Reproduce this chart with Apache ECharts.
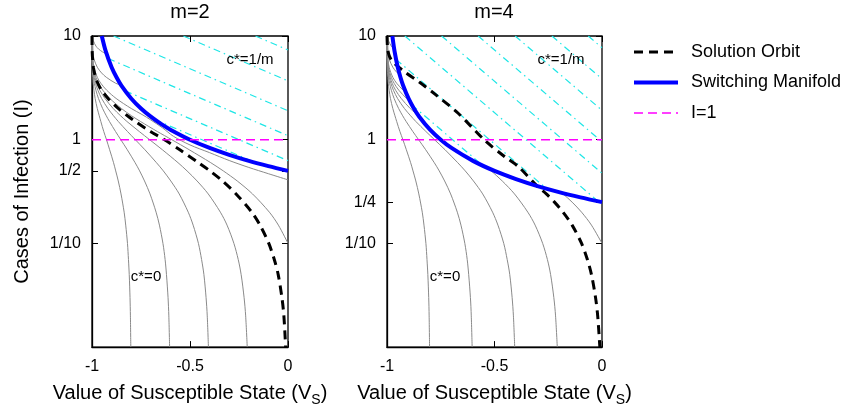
<!DOCTYPE html>
<html>
<head>
<meta charset="utf-8">
<script src="https://cdn.jsdelivr.net/npm/echarts@6/dist/echarts.min.js"></script>
<style>html,body{margin:0;padding:0;background:#fff}#c{width:863px;height:412px}</style>
</head>
<body>
<div id="c"></div>
<script>
// ---------- texts & ticks ----------
const panelTitles = ['m=2', 'm=4'];
const regionLabelTop = 'c*=1/m';
const regionLabelBottom = 'c*=0';
const xTickValues = [-1, -0.5, 0];
const xTickLabels = ['-1', '-0.5', '0'];
const yTickValuesM2 = [0.1, 0.5, 1, 10];
const yTickLabelsM2 = ['1/10', '1/2', '1', '10'];
const yTickValuesM4 = [0.1, 0.25, 1, 10];
const yTickLabelsM4 = ['1/10', '1/4', '1', '10'];
const legendNames = ['Solution Orbit', 'Switching Manifold', 'I=1'];
const xAxisName = 'Value of Susceptible State (V{s|S})';
const yAxisName = 'Cases of Infection (I)';

// ---------- data: [V_S, I] ----------
const levelLine = [[-1, 1], [0, 1]];

const manifoldM2 = [[-0.95,10],[-0.93,7.14],[-0.9,5],[-0.875,4],[-0.85,3.33],[-0.8,2.5],[-0.75,2],[-0.7,1.667],[-0.65,1.429],[-0.6,1.25],[-0.5,1],[-0.4,0.833],[-0.3,0.714],[-0.2,0.625],[-0.1,0.556],[0,0.5]];
const manifoldM4 = [[-0.975,10],[-0.965,7.14],[-0.95,5],[-0.9375,4],[-0.925,3.33],[-0.9,2.5],[-0.875,2],[-0.85,1.667],[-0.8,1.25],[-0.75,1],[-0.7,0.833],[-0.6,0.625],[-0.5,0.5],[-0.4,0.417],[-0.3,0.357],[-0.2,0.3125],[-0.1,0.278],[0,0.25]];

const orbitM2 = [[-1,10],[-0.999,7],[-0.993,5],[-0.982,4],[-0.970,3.5],[-0.951,3],[-0.918,2.5],[-0.866,2],[-0.819,1.7],[-0.779,1.5],[-0.702,1.2],[-0.630,1],[-0.552,0.8],[-0.457,0.6],[-0.398,0.5],[-0.334,0.4],[-0.265,0.3],[-0.185,0.2],[-0.143,0.15],[-0.098,0.1],[-0.070,0.07],[-0.050,0.05],[-0.031,0.03],[-0.021,0.02],[-0.012,0.01]];
const orbitM4 = [[-1,10],[-0.997,7.5],[-0.99,6.5],[-0.978,5.8],[-0.964,5.4],[-0.917,4.5],[-0.85,3.6],[-0.777,2.75],[-0.669,1.8],[-0.544,0.98],[-0.45,0.68],[-0.389,0.55],[-0.3,0.355],[-0.259,0.3],[-0.221,0.25],[-0.181,0.2],[-0.139,0.15],[-0.095,0.1],[-0.068,0.07],[-0.049,0.05],[-0.030,0.03],[-0.020,0.02],[-0.010,0.01]];

// grey c*=0 orbits
const grayA02 = [[-1,10],[-1,7],[-0.999,5],[-0.996,4],[-0.994,3.5],[-0.990,3],[-0.984,2.5],[-0.973,2],[-0.963,1.7],[-0.955,1.5],[-0.940,1.2],[-0.926,1],[-0.910,0.8],[-0.890,0.6],[-0.879,0.5],[-0.866,0.4],[-0.852,0.3],[-0.836,0.2],[-0.828,0.15],[-0.819,0.1],[-0.814,0.07],[-0.810,0.05],[-0.806,0.03],[-0.804,0.02],[-0.802,0.01]];
const grayA04 = [[-1,10],[-1,7],[-0.997,5],[-0.993,4],[-0.988,3.5],[-0.980,3],[-0.967,2.5],[-0.946,2],[-0.927,1.7],[-0.911,1.5],[-0.880,1.2],[-0.853,1],[-0.820,0.8],[-0.780,0.6],[-0.757,0.5],[-0.732,0.4],[-0.704,0.3],[-0.673,0.2],[-0.656,0.15],[-0.638,0.1],[-0.627,0.07],[-0.620,0.05],[-0.612,0.03],[-0.608,0.02],[-0.604,0.01]];
const grayA06 = [[-1,10],[-0.999,7],[-0.996,5],[-0.989,4],[-0.982,3.5],[-0.970,3],[-0.951,2.5],[-0.919,2],[-0.890,1.7],[-0.866,1.5],[-0.819,1.2],[-0.779,1],[-0.730,0.8],[-0.671,0.6],[-0.636,0.5],[-0.598,0.4],[-0.555,0.3],[-0.509,0.2],[-0.484,0.15],[-0.457,0.1],[-0.441,0.07],[-0.429,0.05],[-0.418,0.03],[-0.412,0.02],[-0.406,0.01]];
const grayA08 = [[-1,10],[-0.999,7],[-0.995,5],[-0.985,4],[-0.976,3.5],[-0.960,3],[-0.934,2.5],[-0.892,2],[-0.854,1.7],[-0.822,1.5],[-0.759,1.2],[-0.706,1],[-0.641,0.8],[-0.561,0.6],[-0.515,0.5],[-0.464,0.4],[-0.407,0.3],[-0.345,0.2],[-0.311,0.15],[-0.276,0.1],[-0.254,0.07],[-0.239,0.05],[-0.224,0.03],[-0.216,0.02],[-0.208,0.01]];
const grayA11 = [[-1,10],[-0.999,7],[-0.993,5],[-0.980,4],[-0.967,3.5],[-0.945,3],[-0.909,2.5],[-0.850,2],[-0.798,1.7],[-0.753,1.5],[-0.667,1.2],[-0.593,1],[-0.504,0.8],[-0.394,0.6],[-0.330,0.5],[-0.259,0.4],[-0.181,0.3],[-0.095,0.2],[-0.049,0.15],[0,0.1]];
const grayA15M2 = [[-1,10],[-0.999,7],[-0.990,5],[-0.973,4],[-0.955,3.5],[-0.925,3],[-0.877,2.5],[-0.80,2],[-0.745,1.75],[-0.70,1.55],[-0.64,1.3],[-0.585,1.08],[-0.5,0.89],[-0.4,0.75],[-0.3,0.63],[-0.2,0.54],[-0.1,0.47],[0,0.41]];
const grayA40M2 = [[-1,10],[-0.996,7],[-0.990,6],[-0.973,5],[-0.951,4.4],[-0.927,4],[-0.879,3.5],[-0.853,3.38]];
const grayA60M2 = [[-0.997,10],[-0.993,9],[-0.980,8],[-0.967,7.5],[-0.945,7],[-0.926,6.7]];

const grayA08UpperM4 = [[-1,10],[-0.999,7],[-0.995,5],[-0.985,4],[-0.976,3.5],[-0.960,3],[-0.934,2.5],[-0.892,2],[-0.852,1.69]];
const grayA08LowerM4 = [[-0.531,0.535],[-0.515,0.5],[-0.464,0.4],[-0.407,0.3],[-0.345,0.2],[-0.311,0.15],[-0.276,0.1],[-0.254,0.07],[-0.239,0.05],[-0.224,0.03],[-0.216,0.02],[-0.208,0.01]];
const grayA11UpperM4 = [[-1,10],[-0.999,7],[-0.993,5],[-0.980,4],[-0.967,3.5],[-0.945,3],[-0.909,2.5],[-0.893,2.34]];
const grayA11LowerM4 = [[-0.188,0.308],[-0.181,0.3],[-0.139,0.25],[-0.095,0.2],[-0.049,0.15],[0,0.1]];
const grayA15UpperM4 = [[-1,10],[-0.999,7],[-0.990,5],[-0.973,4],[-0.955,3.5],[-0.925,3],[-0.912,2.84]];
const grayA40UpperM4 = [[-1,10],[-0.996,7],[-0.990,6],[-0.973,5],[-0.956,4.5],[-0.941,4.21]];
const grayA60UpperM4 = [[-0.997,10],[-0.993,9],[-0.980,8],[-0.967,7.5]];

// cyan c*=1/m orbits (straight on the log scale)
const cyanM2 = [
  [[-0.166,10],[0,7.33]],
  [[-0.534,10],[0,3.69]],
  [[-0.890,10],[0,1.90]],
  [[-0.9175,6.06],[0,1.093]],
  [[-0.831,2.96],[0,0.628]],
  [[-0.68,1.5625],[-0.16,0.595]]
];
const cyanM4 = [
  [[-0.064,10],[0,7.7]],
  [[-0.233,10],[0,3.86]],
  [[-0.404,10],[0,1.92]],
  [[-0.576,10],[0,0.955]],
  [[-0.746,10],[0,0.475]],
  [[-0.917,10],[-0.018,0.2545]],
  [[-0.958,5.95],[-0.258,0.337]],
  [[-0.885,2.17],[-0.552,0.558]]
];

// ---------- build chart ----------
const FONT = 'Liberation Sans, Arial, Helvetica, sans-serif';
const panels = [
  { grid: {left: 92, top: 36, width: 196, height: 312}, yVals: yTickValuesM2, yLabs: yTickLabelsM2,
    manifold: manifoldM2, orbit: orbitM2, cyan: cyanM2,
    gray: [grayA02, grayA04, grayA06, grayA08, grayA11, grayA15M2, grayA40M2, grayA60M2],
    title: [190, 12], topLab: [250, 60], botLab: [146, 277] },
  { grid: {left: 387, top: 36, width: 215, height: 312}, yVals: yTickValuesM4, yLabs: yTickLabelsM4,
    manifold: manifoldM4, orbit: orbitM4, cyan: cyanM4,
    gray: [grayA02, grayA04, grayA06, grayA08UpperM4, grayA08LowerM4, grayA11UpperM4, grayA11LowerM4, grayA15UpperM4, grayA40UpperM4, grayA60UpperM4],
    title: [494, 12], topLab: [561, 60], botLab: [445, 277] }
];

function lookup(vals, labs, v) {
  for (let i = 0; i < vals.length; i++) {
    if (Math.abs(vals[i] - v) <= Math.abs(vals[i]) * 1e-6 + 1e-12) return labs[i];
  }
  return '';
}

const grids = [], xAxes = [], yAxes = [], series = [], graphics = [];
panels.forEach((p, i) => {
  grids.push(Object.assign({show: true, borderColor: '#000', borderWidth: 1.3, backgroundColor: 'transparent'}, p.grid));
  const xBase = {gridIndex: i, type: 'value', min: -1, max: 0, interval: 0.5, splitLine: {show: false}};
  xAxes.push(Object.assign({}, xBase, {
    position: 'bottom',
    axisLine: {show: true, onZero: false, lineStyle: {color: '#000', width: 1.3}},
    axisTick: {show: true, inside: true, length: 6, lineStyle: {color: '#000', width: 1}},
    axisLabel: {show: true, margin: 11, fontSize: 16, color: '#000', fontFamily: FONT,
      formatter: v => lookup(xTickValues, xTickLabels, v)},
    name: xAxisName, nameLocation: 'middle', nameGap: 27,
    nameTextStyle: {fontSize: 20, lineHeight: 28, color: '#000', fontFamily: FONT,
      rich: {s: {fontSize: 14, lineHeight: 14, verticalAlign: 'bottom', color: '#000', fontFamily: FONT}}}
  }));
  xAxes.push(Object.assign({}, xBase, {
    position: 'top',
    axisLine: {show: false, onZero: false},
    axisTick: {show: true, inside: true, length: 6, lineStyle: {color: '#000', width: 1}},
    axisLabel: {show: false}
  }));
  const yBase = {gridIndex: i, type: 'log', logBase: 10, min: 0.01, max: 10, splitLine: {show: false}, minorTick: {show: false}};
  const yLeft = Object.assign({}, yBase, {
    position: 'left',
    axisLine: {show: true, onZero: false, lineStyle: {color: '#000', width: 1.3}},
    axisTick: {show: true, inside: true, length: 6, customValues: p.yVals, lineStyle: {color: '#000', width: 1}},
    axisLabel: {show: true, margin: 11, fontSize: 16, color: '#000', fontFamily: FONT, customValues: p.yVals,
      formatter: v => lookup(p.yVals, p.yLabs, v)}
  });
  if (i === 0) {
    Object.assign(yLeft, {name: yAxisName, nameLocation: 'middle', nameGap: 60, nameRotate: 90,
      nameTextStyle: {fontSize: 20, color: '#000', fontFamily: FONT}});
  }
  yAxes.push(yLeft);
  yAxes.push(Object.assign({}, yBase, {
    position: 'right',
    axisLine: {show: false, onZero: false},
    axisTick: {show: true, inside: true, length: 6, customValues: p.yVals, lineStyle: {color: '#000', width: 1}},
    axisLabel: {show: false}
  }));

  const common = {xAxisIndex: 2 * i, yAxisIndex: 2 * i, symbol: 'none', showSymbol: false, animation: false};
  p.cyan.forEach((seg, k) => series.push(Object.assign({}, common, {
    type: 'line', name: 'c*=1/m orbit', data: seg, z: 2, silent: true,
    lineStyle: {color: '#1ee6e6', width: 1.2, type: [7, 4, 1.5, 4]}
  })));
  p.gray.forEach(g => series.push(Object.assign({}, common, {
    type: 'line', name: 'c*=0 orbit', data: g, z: 3, silent: true, smooth: 0.3,
    lineStyle: {color: '#8a8a8a', width: 1}
  })));
  series.push(Object.assign({}, common, {
    type: 'line', name: legendNames[2], data: levelLine, z: 8, zlevel: 0, color: '#ff00ff',
    lineStyle: {color: '#ff00ff', width: 1.4, type: [9, 5], opacity: 1}, itemStyle: {color: '#ff00ff'}
  }));
  series.push(Object.assign({}, common, {
    type: 'line', name: legendNames[0], data: p.orbit, z: 5, smooth: 0.3, color: '#000',
    lineStyle: {color: '#000', width: 3, type: [9, 6]}, itemStyle: {color: '#000'}
  }));
  series.push(Object.assign({}, common, {
    type: 'line', name: legendNames[1], data: p.manifold, z: 6, smooth: 0.3, color: '#0000ff',
    lineStyle: {color: '#0000ff', width: 4}, itemStyle: {color: '#0000ff'}
  }));

  const txt = (pos, text, size) => ({type: 'text', x: pos[0], y: pos[1], z: 20,
    style: {text: text, fill: '#000', fontSize: size, fontFamily: FONT, align: 'center', verticalAlign: 'middle',
      textAlign: 'center', textVerticalAlign: 'middle'}});
  graphics.push(txt(p.title, panelTitles[i], 20));
  graphics.push(txt(p.topLab, regionLabelTop, 15));
  graphics.push(txt(p.botLab, regionLabelBottom, 15));
});

const chart = echarts.init(document.getElementById('c'), null, {renderer: 'canvas'});
chart.setOption({
  animation: false,
  backgroundColor: '#fff',
  textStyle: {fontFamily: FONT},
  grid: grids,
  xAxis: xAxes,
  yAxis: yAxes,
  legend: {
    data: legendNames, orient: 'vertical', left: 627, top: 38,
    itemWidth: 44, itemHeight: 20, itemGap: 12.5, selectedMode: false,
    itemStyle: {color: 'rgba(0,0,0,0)', borderColor: 'rgba(0,0,0,0)', borderWidth: 0},
    lineStyle: {width: 'inherit', type: 'inherit', color: 'inherit'},
    textStyle: {fontSize: 18, color: '#000', fontFamily: FONT, padding: [0, 0, 0, 8]}
  },
  graphic: graphics,
  series: series
});
</script>
</body>
</html>
